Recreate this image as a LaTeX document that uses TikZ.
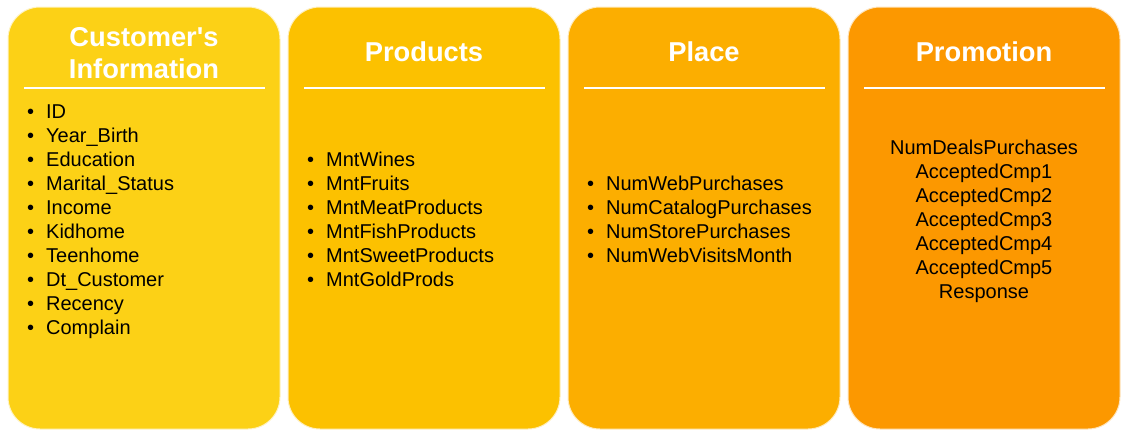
\documentclass[tikz,border=0pt]{standalone}
\usepackage{fontspec}
\setmainfont{Liberation Sans}
\usetikzlibrary{positioning}
\definecolor{custcol}{RGB}{252,209,22}
\definecolor{prodcol}{RGB}{252,193,0}
\definecolor{placecol}{RGB}{252,174,0}
\definecolor{promocol}{RGB}{252,152,0}
\newcommand{\bul}{\makebox[19pt][l]{\textbullet}}

\begin{document}
\begin{tikzpicture}[x=1pt,y=-1pt,node distance=8pt,
	panel/.style={draw=white!75!#1,fill=#1,line width=1pt,rounded corners=32pt,minimum width=272pt,minimum height=422pt,inner sep=0pt,outer sep=0pt},
	title text/.style={text=white,font=\fontsize{27.3}{32}\selectfont\bfseries,align=center},
	item list/.style={font=\fontsize{20}{24}\selectfont,align=left,anchor=west,inner sep=0pt},
	rule line/.style={white,line width=2pt}]
		\useasboundingbox (0,0) rectangle (1128,439);
		\node[panel=custcol] (cust) at (144,218) {};
		\node[panel=prodcol] (prod) [right=of cust] {};
		\node[panel=placecol] (place) [right=of prod] {};
		\node[panel=promocol] (promo) [right=of place] {};
		% titles
		\node[title text] (custtitle) at ([yshift=-46.5pt]cust.north) {Customer\textquotesingle s\\Information};
		\node[title text] (prodtitle) at ([yshift=-45pt]prod.north) {Products};
		\node[title text] (placetitle) at ([yshift=-45pt]place.north) {Place};
		\node[title text] (promotitle) at ([yshift=-45pt]promo.north) {Promotion};
		\foreach \p in {cust,prod,place,promo}
			\draw[rule line] ([xshift=-120pt,yshift=-81pt]\p.north) -- ([xshift=121pt,yshift=-81pt]\p.north);
		% lists
		\node[item list] (custlist) at ([xshift=19pt,yshift=-3.4pt]cust.west) {\strut\bul ID\\\bul Year\_Birth\\\bul Education\\\bul Marital\_Status\\\bul Income\\\bul Kidhome\\\bul Teenhome\\\bul Dt\_Customer\\\bul Recency\\\bul Complain\strut};
		\node[item list] (prodlist) at ([xshift=19pt,yshift=-3.4pt]prod.west) {\strut\bul MntWines\\\bul MntFruits\\\bul MntMeatProducts\\\bul MntFishProducts\\\bul MntSweetProducts\\\bul MntGoldProds\strut};
		\node[item list] (placelist) at ([xshift=19pt,yshift=-3.4pt]place.west) {\strut\bul NumWebPurchases\\\bul NumCatalogPurchases\\\bul NumStorePurchases\\\bul NumWebVisitsMonth\strut};
		\node[item list,anchor=center,align=center] (promolist) at ([yshift=-3.4pt]promo.center) {\strut NumDealsPurchases\\AcceptedCmp1\\AcceptedCmp2\\AcceptedCmp3\\AcceptedCmp4\\AcceptedCmp5\\Response\strut};
\end{tikzpicture}
\end{document}
